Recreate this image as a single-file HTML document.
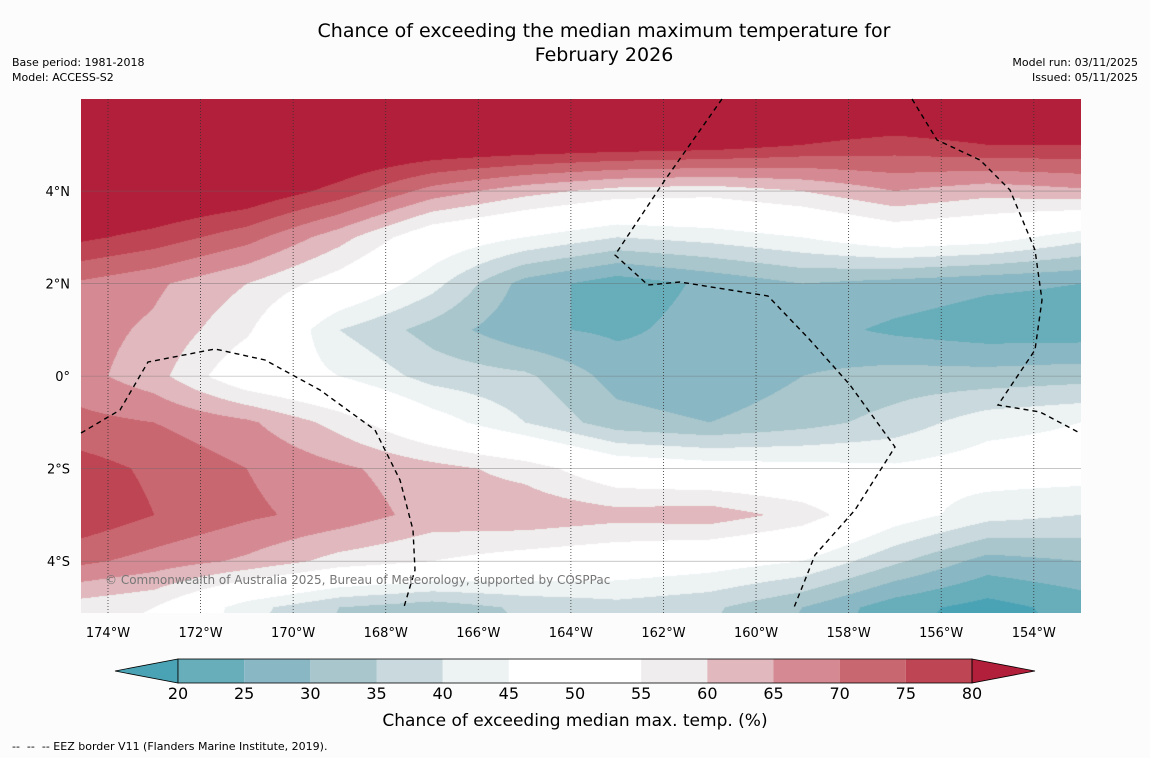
<!DOCTYPE html>
<html><head><meta charset="utf-8">
<style>
body{margin:0;background:#fcfcfc;font-family:"DejaVu Sans",sans-serif;}
#wrap{position:relative;width:1150px;height:758px;overflow:hidden;background:#fcfcfc;}
.t{position:absolute;color:#000;white-space:nowrap;}
</style></head><body>
<div id="wrap">
<div class="t" style="left:0;width:1208px;top:19px;text-align:center;font-size:19px;line-height:24px;">Chance of exceeding the median maximum temperature for<br>February 2026</div>
<div class="t" style="left:12px;top:55px;font-size:11px;line-height:15px;">Base period: 1981-2018<br>Model: ACCESS-S2</div>
<div class="t" style="right:12px;top:55px;font-size:11px;line-height:15px;text-align:right;">Model run: 03/11/2025<br>Issued: 05/11/2025</div>
<canvas id="map" width="1000" height="514" style="position:absolute;left:81px;top:99px;"></canvas>
<svg id="ov" width="1150" height="758" style="position:absolute;left:0;top:0;"></svg>
<div class="t" style="left:12px;top:740px;font-size:11px;">--&nbsp; --&nbsp; -- EEZ border V11 (Flanders Marine Institute, 2019).</div>
</div>
<script>
const lons=[-175,-173,-171,-169,-167,-165,-163,-161,-159,-157,-155,-153];
const lats=[6,5,4,3,2,1,0,-1,-2,-3,-4,-5,-6];
const values=[
[90,90,90,90,90,90,90,90,88,88,88,88],
[90,90,90,88,86,85,84,83,80,78,80,80],
[90,88,85,78,68,62,58,57,60,65,62,64],
[82,78,72,62,50,45,40,42,45,50,48,42],
[70,66,60,52,42,28,22,26,30,28,26,25],
[68,64,56,40,33,26,24,27,27,24,22,22],
[68,62,50,45,38,36,28,26,30,32,32,33],
[72,70,66,58,48,40,32,30,33,37,43,45],
[78,74,70,66,62,58,50,48,47,46,48,48],
[80,75,71,68,63,64,62,63,58,48,42,40],
[72,68,64,58,55,52,50,48,45,36,28,30],
[58,55,42,35,32,36,38,36,30,22,18,22],
[55,52,40,33,30,34,36,34,28,20,17,20]];
const levels=[20,25,30,35,40,45,50,55,60,65,70,75,80];
const colors=["#4aa3b5","#68aeba","#8ab7c4","#a8c6cb","#c9d9dd","#edf2f3","#ffffff","#ffffff","#efeded","#e0b8bd","#d58a93","#c96770","#be4553","#b21f3a"];
const lonTicks=[-174,-172,-170,-168,-166,-164,-162,-160,-158,-156,-154];
const latTicks=[4,2,0,-2,-4];
const X0=81,Y0=99,W=1000,H=514;
const lonMin=-174.583,lonMax=-152.98,latMax=5.99,latMin=-5.12;
function xs(lon){return X0+(lon-lonMin)/(lonMax-lonMin)*W;}
function ys(lat){return Y0+(latMax-lat)/(latMax-latMin)*H;}
function hex(c){return [parseInt(c.substr(1,2),16),parseInt(c.substr(3,2),16),parseInt(c.substr(5,2),16)];}
const rgb=colors.map(hex);
function val(lon,lat){
 let fi=(lon-lons[0])/(lons[1]-lons[0]);let fj=(lats[0]-lat)/(lats[0]-lats[1]);
 fi=Math.max(0,Math.min(lons.length-1.001,fi));fj=Math.max(0,Math.min(lats.length-1.001,fj));
 const i=Math.floor(fi),j=Math.floor(fj),a=fi-i,b=fj-j;
 return values[j][i]*(1-a)*(1-b)+values[j][i+1]*a*(1-b)+values[j+1][i]*(1-a)*b+values[j+1][i+1]*a*b;
}
function lev(v){let k=0;while(k<levels.length&&v>=levels[k])k++;return k;}
const cv=document.getElementById('map'),ctx=cv.getContext('2d');
const img=ctx.createImageData(W,H);
for(let py=0;py<H;py++){const lat=latMax-(py+0.5)/H*(latMax-latMin);
 for(let px=0;px<W;px++){const lon=lonMin+(px+0.5)/W*(lonMax-lonMin);
  const c=rgb[lev(val(lon,lat))];const o=(py*W+px)*4;
  img.data[o]=c[0];img.data[o+1]=c[1];img.data[o+2]=c[2];img.data[o+3]=255;}}
ctx.putImageData(img,0,0);
const NS="http://www.w3.org/2000/svg",ov=document.getElementById('ov');
function mk(t,a,p){const e=document.createElementNS(NS,t);for(const k in a)e.setAttribute(k,a[k]);(p||ov).appendChild(e);return e;}
lonTicks.forEach(l=>{const x=xs(l);
 const g=mk('line',{x1:x,x2:x,y1:Y0,y2:Y0+H,stroke:'#333','stroke-width':0.8,'stroke-dasharray':'1,2'});
 
 
 const t=mk('text',{x:x,y:637,'text-anchor':'middle','font-size':13,'font-family':'DejaVu Sans'});t.textContent=Math.abs(l)+'°W';
 
 });
latTicks.forEach(l=>{const y=ys(l);
 const g=mk('line',{x1:X0,x2:X0+W,y1:y,y2:y,stroke:'#666','stroke-width':0.6,opacity:0.6});
 
 
 const t=mk('text',{x:70,y:y+5,'text-anchor':'end','font-size':13,'font-family':'DejaVu Sans'});t.textContent=l==0?'0°':Math.abs(l)+'°'+(l>0?'N':'S');
 
 });
const eez=[
"M81,433 L120,410 L148,362 L215,349 L265,360 L320,390 L375,430 L400,480 L413,530 L415,570 L404,607",
"M722,99 L665,180 L615,255 L648,285 L680,282 L768,296 L810,340 L850,385 L895,447 L855,510 L815,555 L793,610",
"M912,99 L937,140 L980,160 L1010,190 L1035,250 L1042,300 L1035,350 L998,405 L1040,412 L1078,432"];
eez.forEach(d=>{const p=mk('path',{d:d,fill:'none',stroke:'#000','stroke-width':1.4,'stroke-dasharray':'5,4'});
 
 });
const cp=mk('text',{x:105,y:584,'font-size':12,fill:'#777','font-family':'DejaVu Sans'});cp.textContent='© Commonwealth of Australia 2025, Bureau of Meteorology, supported by COSPPac';


const cbx0=178,cbx1=972,cby=659,cbh=24,bw=(cbx1-cbx0)/(levels.length-1);
const lt=mk('polygon',{points:`115,${cby+cbh/2} ${cbx0},${cby} ${cbx0},${cby+cbh}`,fill:colors[0],stroke:'#000','stroke-width':0.8});


for(let k=0;k<levels.length-1;k++){const r=mk('rect',{x:cbx0+k*bw,y:cby,width:bw,height:cbh,fill:colors[k+1]});
 
 }
const rt=mk('polygon',{points:`${cbx1},${cby} 1035,${cby+cbh/2} ${cbx1},${cby+cbh}`,fill:colors[13],stroke:'#000','stroke-width':0.8});


mk('rect',{x:cbx0,y:cby,width:cbx1-cbx0,height:cbh,fill:'none',stroke:'#000','stroke-width':0.8});
levels.forEach((v,k)=>{const t=mk('text',{x:cbx0+k*bw,y:699,'text-anchor':'middle','font-size':16,'font-family':'DejaVu Sans'});t.textContent=v;
 
 });
const ct=mk('text',{x:575,y:726,'text-anchor':'middle','font-size':17,'font-family':'DejaVu Sans'});ct.textContent='Chance of exceeding median max. temp. (%)';


</script>
</body></html>
